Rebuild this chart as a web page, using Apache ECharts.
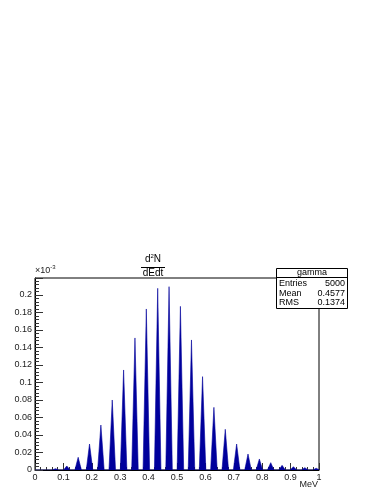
<!DOCTYPE html>
<html>
<head>
<meta charset="utf-8">
<script src="https://cdn.jsdelivr.net/npm/echarts@6/dist/echarts.min.js"></script>
<style>
  html, body { margin: 0; padding: 0; background: #fff; }
  #main { width: 383px; height: 495px; }
</style>
</head>
<body>
<div id="main"></div>
<script>
// peak energies (MeV) and heights (x10^-3)
var peakE = [0.072, 0.112, 0.152, 0.192, 0.232, 0.272, 0.312, 0.352, 0.392, 0.432, 0.472, 0.512,
             0.551, 0.590, 0.630, 0.670, 0.710, 0.750, 0.790, 0.830, 0.870, 0.910, 0.950, 0.990];
var peakH = [0.0015, 0.0046, 0.0145, 0.0297, 0.0514, 0.080, 0.1143, 0.1509, 0.184, 0.2076, 0.2095, 0.187,
             0.1486, 0.1067, 0.0716, 0.0465, 0.0297, 0.0183, 0.0126, 0.0084, 0.0053, 0.0038, 0.0027, 0.002];
var xTicks = [0, 0.1, 0.2, 0.3, 0.4, 0.5, 0.6, 0.7, 0.8, 0.9, 1];
var yTicks = [0, 0.02, 0.04, 0.06, 0.08, 0.1, 0.12, 0.14, 0.16, 0.18, 0.2];
var statNames = ['Entries', 'Mean', 'RMS'];
var statValues = ['5000', '0.4577', '0.1374'];

var peakHalfWidth = 0.0115;
var FONT = 'Liberation Sans';

// each peak is zero on both sides of its top
var histData = [[0, 0]];
peakE.forEach(function (e, i) {
    histData.push([e - peakHalfWidth, 0]);
    histData.push([e, peakH[i]]);
    histData.push([e + peakHalfWidth, 0]);
});
histData.push([1, 0]);

var myChart = echarts.init(document.getElementById('main'));

var L = 35, T = 278, R = 319, B = 470;

var statsGraphics = [
    { type: 'rect', shape: { x: 276.5, y: 268.5, width: 71, height: 40 },
      style: { fill: '#fff', stroke: '#000', lineWidth: 1 }, z: 100 },
    { type: 'line', shape: { x1: 276.5, y1: 277.5, x2: 347.5, y2: 277.5 },
      style: { stroke: '#000', lineWidth: 1 }, z: 101 },
    { type: 'text', x: 312, y: 273, z: 101,
      style: { text: 'gamma', font: '9px ' + FONT, fill: '#000', align: 'center', verticalAlign: 'middle' } }
];
statNames.forEach(function (n, i) {
    statsGraphics.push({ type: 'text', x: 279, y: 284 + i * 9.2, z: 101,
        style: { text: n, font: '9px ' + FONT, fill: '#000', align: 'left', verticalAlign: 'middle' } });
    statsGraphics.push({ type: 'text', x: 345, y: 284 + i * 9.2, z: 101,
        style: { text: statValues[i], font: '9px ' + FONT, fill: '#000', align: 'right', verticalAlign: 'middle' } });
});

var option = {
    backgroundColor: '#fff',
    animation: false,
    grid: { left: L, top: T, right: 383 - R, bottom: 495 - B, show: true, borderColor: '#000', borderWidth: 1 },
    xAxis: {
        type: 'value', min: 0, max: 1, interval: 0.1,
        axisLine: { show: true, onZero: false, lineStyle: { color: '#000', width: 1 } },
        axisTick: { show: true, inside: true, length: 7, lineStyle: { color: '#333' } },
        minorTick: { show: true, splitNumber: 5, length: 3, lineStyle: { color: '#333' } },
        splitLine: { show: false },
        axisLabel: {
            color: '#222', fontFamily: FONT, fontSize: 9, margin: 3,
            formatter: function (v) { return xTicks.indexOf(+v.toFixed(2)) >= 0 ? String(+v.toFixed(2)) : ''; }
        }
    },
    yAxis: {
        type: 'value', min: 0, max: 0.2194, interval: 0.02,
        axisLine: { show: true, lineStyle: { color: '#000', width: 1 } },
        axisTick: { show: true, inside: true, length: 8, lineStyle: { color: '#333' } },
        minorTick: { show: true, splitNumber: 5, length: 4, lineStyle: { color: '#333' } },
        splitLine: { show: false },
        axisLabel: {
            color: '#222', fontFamily: FONT, fontSize: 9, margin: 3, showMaxLabel: false,
            formatter: function (v) { return yTicks.indexOf(+v.toFixed(2)) >= 0 ? String(+v.toFixed(2)) : ''; }
        }
    },
    series: [{
        type: 'line',
        data: histData,
        symbol: 'none',
        lineStyle: { color: '#00009c', width: 0.6 },
        areaStyle: { color: '#00009c', opacity: 1 },
        z: 3
    }],
    graphic: [
        { type: 'text', x: 35, y: 277,
          style: { text: '×10{s|-3}', font: '9px ' + FONT, fill: '#222', align: 'left', verticalAlign: 'bottom',
                   rich: { s: { fontSize: 6, padding: [0, 0, 7, 0] } } } },
        { type: 'text', x: 318, y: 485,
          style: { text: 'MeV', font: '9px ' + FONT, fill: '#222', align: 'right', verticalAlign: 'middle' } },
        { type: 'text', x: 153, y: 266,
          style: { text: 'd{s|2}N', font: '10px ' + FONT, fill: '#000', align: 'center', verticalAlign: 'bottom',
                   rich: { s: { fontSize: 6, padding: [0, 0, 7, 0] } } } },
        { type: 'line', shape: { x1: 141, y1: 267.5, x2: 165, y2: 267.5 }, style: { stroke: '#000', lineWidth: 1 } },
        { type: 'text', x: 153, y: 273,
          style: { text: 'dEdt', font: '10px ' + FONT, fill: '#000', align: 'center', verticalAlign: 'middle' } }
    ].concat(statsGraphics)
};

myChart.setOption(option);
</script>
</body>
</html>
